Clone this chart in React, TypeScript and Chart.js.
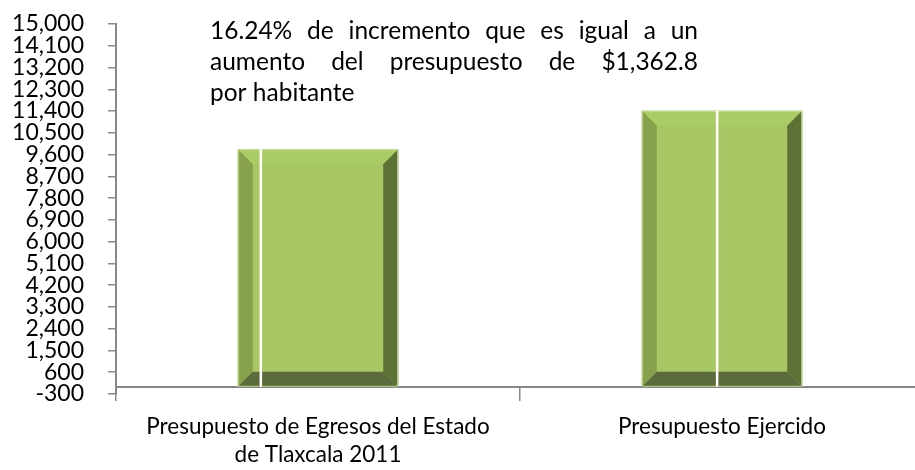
import React, { useEffect, useRef } from 'react';
import { Chart, registerables } from 'chart.js';

Chart.register(...registerables);

// ---- data ----
const categories: string[][] = [
  ['Presupuesto de Egresos del Estado', 'de Tlaxcala 2011'],
  ['Presupuesto Ejercido'],
];
const values: number[] = [9820, 11410];
const yMin = -300;
const yMax = 15000;
const yStep = 900;
const noteLines: string[] = [
  '16.24% de incremento que es igual a un',
  'aumento del presupuesto de $1,362.8',
  'por habitante',
];

const FONT = 'Lato, "Open Sans", sans-serif';
const AXIS_GRAY = '#888888';

const bevelPlugin = {
  id: 'bevel',
  afterDatasetsDraw(chart: any, _args: any, opts: any) {
    const meta = chart.getDatasetMeta(0);
    const ctx = chart.ctx as CanvasRenderingContext2D;
    const d = opts.depth ?? 15;
    const fracs: number[] = opts.lineFracs ?? [];
    meta.data.forEach((bar: any, i: number) => {
      const { x, y, base, width } = bar.getProps(['x', 'y', 'base', 'width'], true);
      const l = x - width / 2;
      const r = x + width / 2;
      const t = Math.min(y, base);
      const b = Math.max(y, base);
      const poly = (pts: number[][], color: string) => {
        ctx.beginPath();
        ctx.moveTo(pts[0][0], pts[0][1]);
        for (let k = 1; k < pts.length; k++) ctx.lineTo(pts[k][0], pts[k][1]);
        ctx.closePath();
        ctx.fillStyle = color;
        ctx.fill();
      };
      ctx.save();
      poly([[l, t], [r, t], [r - d, t + d], [l + d, t + d]], '#AACC67');
      poly([[l, t], [l + d, t + d], [l + d, b - d], [l, b]], '#87A04B');
      poly([[r, t], [r, b], [r - d, b - d], [r - d, t + d]], '#5F7236');
      poly([[l, b], [l + d, b - d], [r - d, b - d], [r, b]], '#5C6B3B');
      ctx.strokeStyle = 'rgba(200,222,160,0.9)';
      ctx.lineWidth = 1;
      ctx.strokeRect(l + 0.5, t + 0.5, width - 1, b - t - 1);
      const f = fracs[i];
      if (f !== undefined) {
        ctx.fillStyle = '#FFFFFF';
        ctx.fillRect(l + f * width - 1, t, 2.5, b - t);
      }
      ctx.restore();
    });
  },
};

const notePlugin = {
  id: 'note',
  afterDraw(chart: any, _args: any, opts: any) {
    const ctx = chart.ctx as CanvasRenderingContext2D;
    const lines: string[] = opts.lines ?? [];
    const x0 = opts.x;
    const w = opts.width;
    ctx.save();
    ctx.font = `${opts.size}px ${FONT}`;
    ctx.fillStyle = '#000';
    ctx.textBaseline = 'alphabetic';
    lines.forEach((line, i) => {
      const yb = opts.y + i * opts.lineHeight;
      const words = line.split(' ');
      if (i < lines.length - 1 && words.length > 1) {
        const total = words.reduce((s, wd) => s + ctx.measureText(wd).width, 0);
        const gap = (w - total) / (words.length - 1);
        let cx = x0;
        words.forEach((wd) => {
          ctx.fillText(wd, cx, yb);
          cx += ctx.measureText(wd).width + gap;
        });
      } else {
        ctx.fillText(line, x0, yb);
      }
    });
    ctx.restore();
  },
};

export default function App() {
  const ref = useRef<HTMLCanvasElement | null>(null);

  useEffect(() => {
    document.body.style.margin = '0';
    document.body.style.overflow = 'hidden';
    if (!ref.current) return;
    const chart = new Chart(ref.current, {
      type: 'bar',
      data: {
        labels: categories,
        datasets: [
          {
            data: values,
            backgroundColor: '#A6C763',
            borderWidth: 0,
            barPercentage: 0.397,
            categoryPercentage: 1,
          },
        ],
      },
      options: {
        responsive: false,
        animation: false,
        layout: { padding: { top: 24, left: 0, right: 0, bottom: 76 } },
        plugins: {
          legend: { display: false },
          tooltip: { enabled: false },
          bevel: { depth: 15, lineFracs: [0.142, 0.468] },
          note: { lines: noteLines, x: 210, y: 39, width: 488, lineHeight: 31, size: 24.5 },
        } as any,
        scales: {
          x: {
            position: { y: 0 } as any,
            offset: true,
            grid: {
              offset: true,
              drawOnChartArea: false,
              drawTicks: true,
              tickLength: 13,
              color: AXIS_GRAY,
              lineWidth: 1.5,
            },
            border: { color: AXIS_GRAY, width: 2 },
            ticks: {
              color: '#000',
              font: { family: FONT, size: 22.5, lineHeight: 1.25 },
              padding: 13,
              maxRotation: 0,
              autoSkip: false,
            },
            afterFit: (s: any) => {
              s.paddingLeft = 0;
              s.paddingRight = 0;
            },
          },
          y: {
            min: yMin,
            max: yMax,
            ticks: {
              stepSize: yStep,
              autoSkip: false,
              color: '#000',
              padding: 24,
              font: { family: FONT, size: 23, lineHeight: 1 },
              callback: (v: any) => Number(v).toLocaleString('en-US'),
            },
            grid: {
              drawOnChartArea: false,
              drawTicks: true,
              tickLength: 8,
              color: AXIS_GRAY,
              lineWidth: 1.5,
            },
            border: { color: AXIS_GRAY, width: 2 },
            afterFit: (s: any) => {
              s.width = 116;
              s.paddingTop = 0;
              s.paddingBottom = 0;
            },
          },
        },
      },
      plugins: [bevelPlugin, notePlugin],
    });
    return () => chart.destroy();
  }, []);

  return (
    <div style={{ width: 924, height: 470, overflow: 'hidden' }}>
      <canvas ref={ref} width={924} height={470} style={{ display: 'block' }} />
    </div>
  );
}
